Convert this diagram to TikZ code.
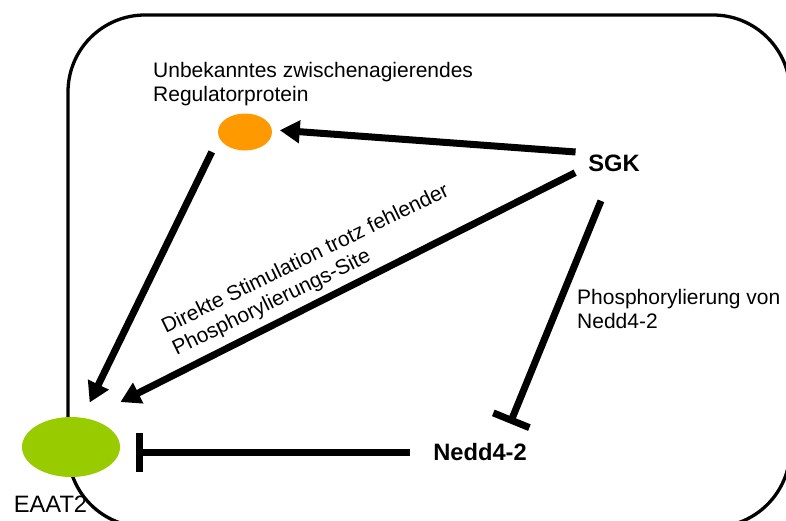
\documentclass[tikz,border=0pt]{standalone}
\usepackage{fontspec}
\setmainfont{Liberation Sans}
\usetikzlibrary{arrows.meta,shapes.geometric}
\definecolor{regorange}{HTML}{FF9900}
\definecolor{eaatgreen}{HTML}{99CC00}
\begin{document}
\begin{tikzpicture}[x=1pt,y=-1pt,
  lbl/.style={align=left,inner sep=0pt,font=\fontsize{21}{24.5}\selectfont},
  prot/.style={inner sep=0pt,outer sep=0pt,font=\fontsize{23.7}{26}\selectfont\bfseries},
  blob/.style={ellipse,inner sep=0pt,outer sep=0pt},
  a/.style={-{Triangle[length=20pt,width=22pt]},line width=7pt},
  inh/.style={-{Bar[width=39pt]},line width=7pt}
]
\useasboundingbox (0,0) rectangle (786,520);
\clip (0,0) rectangle (786,520);
% cell border
\draw[line width=3.3pt,rounded corners=77pt] (68,15) rectangle (790,527);
\node[blob,fill=regorange,minimum width=54pt,minimum height=37pt] (reg) at (245,132) {};
\node[blob,fill=eaatgreen,minimum width=98pt,minimum height=60pt] (eaat) at (71,447) {};
\node[prot,circle,minimum size=80pt] (sgk) at (614,163) {SGK};
\node[prot,minimum width=140pt,minimum height=58pt] (nedd) at (480,452.5) {Nedd4-2};
\node[inner sep=0pt,font=\fontsize{23.7}{26}\selectfont] (eaatlbl) at (50.5,504.5) {EAAT2};
\node[lbl,anchor=north west] (reglbl) at (153,62) {Unbekanntes zwischenagierendes\\Regulatorprotein};
\node[lbl,anchor=north west] (phoslbl) at (577,289) {Phosphorylierung von\\Nedd4-2};
\node[lbl,anchor=north west,rotate=26] (stimlbl) at (159,320) {Direkte Stimulation trotz fehlender\\Phosphorylierungs-Site};
% connectors
\draw[a,shorten >=8pt] (sgk.164) -- (reg.5);
\draw[a,shorten <=16.5pt,shorten >=17pt] (reg.191) -- (eaat.69);
\draw[a,shorten >=37pt] (sgk.194) -- (eaat.60);
\draw[inh] (sgk.251) -- (nedd.44);
\draw[inh,shorten >=15.5pt] (nedd.west) -- (nedd.west -| eaat.east);
\end{tikzpicture}
\end{document}
